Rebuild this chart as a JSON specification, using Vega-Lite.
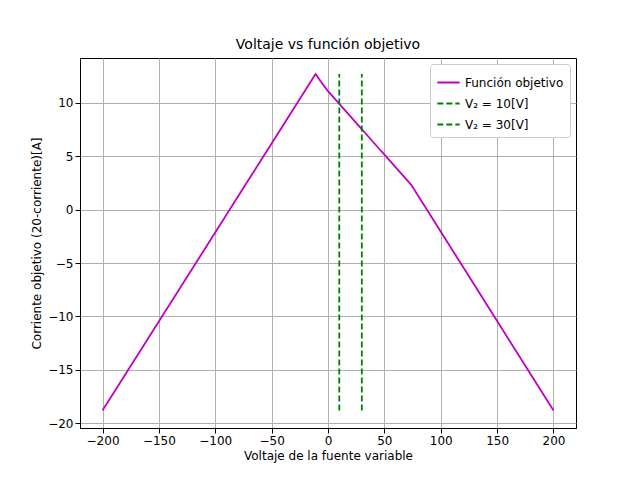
{
"$schema":"https://vega.github.io/schema/vega-lite/v6.json",
"width":496,"height":370,
"autosize":{"type":"none"},
"padding":{"left":80,"top":58,"right":64,"bottom":52},
"title":{"text":"Voltaje vs función objetivo","font":"DejaVu Sans","fontSize":14,"fontWeight":"normal","offset":6},
"config":{"view":{"stroke":"black","strokeWidth":1},"font":"DejaVu Sans",
"axis":{"gridColor":"#b0b0b0","gridOpacity":1,"domainColor":"black","tickColor":"black","labelFontSize":12,"titleFontSize":12,"titleFontWeight":"normal","labelColor":"black","titleColor":"black","labelFont":"DejaVu Sans","titleFont":"DejaVu Sans"}},
"data":{"values":[
{"s":"Función objetivo","x":-200,"y":-18.8},
{"s":"Función objetivo","x":-11,"y":12.7},
{"s":"Función objetivo","x":-5,"y":11.8},
{"s":"Función objetivo","x":0,"y":11.1},
{"s":"Función objetivo","x":74,"y":2.3},
{"s":"Función objetivo","x":200,"y":-18.8},
{"s":"V₂ = 10[V]","x":10,"y":-18.8},
{"s":"V₂ = 10[V]","x":10,"y":12.7},
{"s":"V₂ = 30[V]","x":30,"y":-18.8},
{"s":"V₂ = 30[V]","x":30,"y":12.7}
]},
"mark":{"type":"line","strokeWidth":1.8},
"encoding":{
"x":{"field":"x","type":"quantitative","scale":{"domain":[-220,220],"nice":false,"zero":false},"axis":{"values":[-200,-150,-100,-50,0,50,100,150,200],"title":"Voltaje de la fuente variable"}},
"y":{"field":"y","type":"quantitative","scale":{"domain":[-20.45,14.2],"nice":false,"zero":false},"axis":{"values":[-20,-15,-10,-5,0,5,10],"title":"Corriente objetivo (20-corriente)[A]"}},
"color":{"field":"s","type":"nominal","scale":{"domain":["Función objetivo","V₂ = 10[V]","V₂ = 30[V]"],"range":["#bf00bf","#008000","#008000"]},
"legend":{"title":null,"orient":"top-right","offset":6,"strokeColor":"#cccccc","fillColor":"white","padding":6,"labelFontSize":12,"symbolType":"stroke","symbolSize":500,"symbolStrokeWidth":1.8,"cornerRadius":3}},
"strokeDash":{"field":"s","type":"nominal","scale":{"domain":["Función objetivo","V₂ = 10[V]","V₂ = 30[V]"],"range":[[1,0],[6,3],[6,3]]}},
"order":{"field":"x"}
}
}
